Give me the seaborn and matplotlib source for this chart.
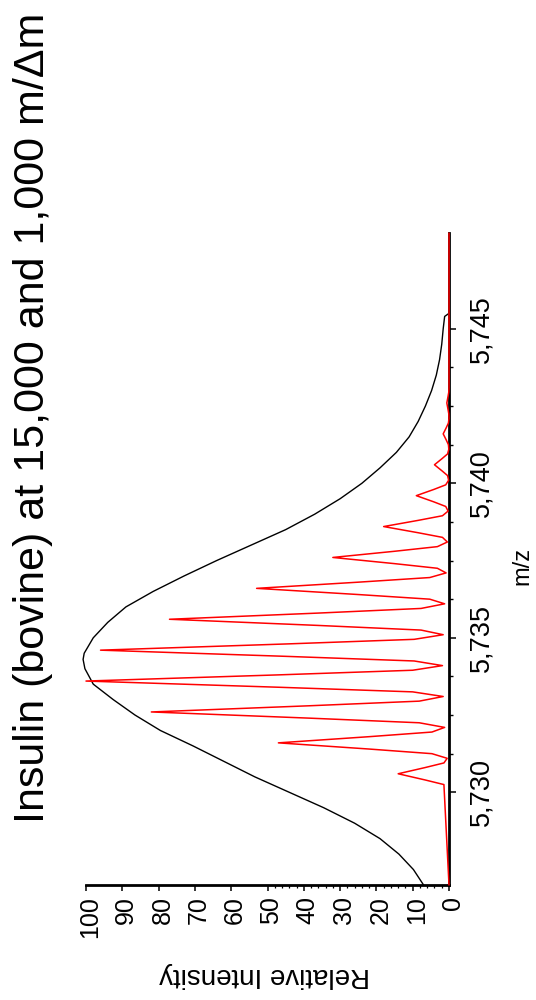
import matplotlib
matplotlib.use("Agg")
import matplotlib.pyplot as plt
import matplotlib.transforms as mtransforms
import seaborn as sns

# ---------------- data ----------------
# Low resolution (1,000 m/dm) envelope: m/z and relative intensity
env_mz = [5727.0, 5727.5, 5728.0, 5728.5, 5729.0, 5729.5, 5730.0, 5730.5,
          5731.0, 5731.5, 5732.0, 5732.5, 5733.0, 5733.5, 5734.0, 5734.3,
          5734.5, 5735.0, 5735.5, 5736.0, 5736.5, 5737.0, 5737.5, 5738.0,
          5738.5, 5739.0, 5739.5, 5740.0, 5740.5, 5741.0, 5741.5, 5742.0,
          5742.5, 5743.0, 5743.5, 5744.0, 5744.5, 5745.0, 5745.4, 5745.5,
          5748.1]
env_int = [7.0, 9.8, 13.8, 19.0, 26.0, 34.5, 44.0, 53.5,
           62.0, 70.5, 79.5, 86.5, 92.5, 98.0, 100.3, 100.8,
           100.5, 98.0, 94.0, 89.0, 81.5, 73.0, 64.0, 54.5,
           45.0, 37.0, 30.0, 24.0, 19.0, 14.5, 11.0, 8.5,
           6.5, 4.8, 3.5, 2.6, 2.0, 1.6, 1.2, 0.0,
           0.0]

# High resolution (15,000 m/dm) isotope profile: m/z and relative intensity
red_mz = [5727.0,
          5730.25, 5730.4, 5730.6, 5730.8, 5730.95, 5731.1,
          5731.25, 5731.4, 5731.6, 5731.8, 5731.95, 5732.1,
          5732.25, 5732.4, 5732.6, 5732.8, 5732.95, 5733.1,
          5733.25, 5733.4, 5733.6, 5733.8, 5733.95, 5734.1,
          5734.25, 5734.4, 5734.6, 5734.8, 5734.95, 5735.1,
          5735.25, 5735.4, 5735.6, 5735.8, 5735.95, 5736.1,
          5736.25, 5736.4, 5736.6, 5736.8, 5736.95, 5737.1,
          5737.25, 5737.4, 5737.6, 5737.8, 5737.95, 5738.1,
          5738.25, 5738.4, 5738.6, 5738.8, 5738.95, 5739.1,
          5739.25, 5739.4, 5739.6, 5739.8, 5739.95, 5740.1,
          5740.25, 5740.4, 5740.6, 5740.8, 5740.95, 5741.1,
          5741.25, 5741.4, 5741.6, 5741.8, 5741.95, 5742.1,
          5742.25, 5742.4, 5742.6, 5742.8, 5742.95, 5743.1,
          5748.1]
red_int = [0.0,
           1.4, 6.6, 14.0, 6.6, 1.4, 0.5,
           4.7, 22.0, 47.0, 22.0, 4.7, 1.2,
           8.2, 38.5, 82.0, 38.5, 8.2, 1.6,
           10.0, 47.0, 100.0, 47.0, 10.0, 1.8,
           9.6, 45.0, 96.0, 45.0, 9.6, 1.6,
           7.7, 36.0, 77.0, 36.0, 7.7, 1.2,
           5.3, 25.0, 53.0, 25.0, 5.3, 0.8,
           3.2, 15.0, 32.0, 15.0, 3.2, 0.45,
           1.8, 8.5, 18.0, 8.5, 1.8, 0.25,
           0.9, 4.2, 9.0, 4.2, 0.9, 0.1,
           0.4, 1.9, 4.0, 1.9, 0.4, 0.05,
           0.16, 0.75, 1.6, 0.75, 0.16, 0.0,
           0.06, 0.28, 0.6, 0.28, 0.06, 0.0,
           0.0]

mz_ticks = [5730, 5735, 5740, 5745]
int_ticks = [0, 10, 20, 30, 40, 50, 60, 70, 80, 90, 100]

title = "Insulin (bovine) at 15,000 and 1,000 m/\u0394m"
x_label = "Relative Intensity"
y_label = "m/z"

# ---------------- figure ----------------
sns.set_style("ticks")
plt.rcParams["font.family"] = ["Liberation Sans", "DejaVu Sans"]

W, H = 536, 1000
fig = plt.figure(figsize=(W / 100, H / 100), dpi=100)
fig.patch.set_facecolor("white")
ax = fig.add_axes([86 / W, 1 - 885 / H, (449 - 86) / W, (885 - 233) / H])
ax.set_facecolor("white")

sns.lineplot(x=env_int, y=env_mz, sort=False, estimator=None, orient="y",
             color="black", lw=1.0, ax=ax, clip_on=False, zorder=3)
sns.lineplot(x=red_int, y=red_mz, sort=False, estimator=None, orient="y",
             color="#ff0000", lw=1.1, ax=ax, clip_on=False, zorder=4)

ax.set_xlim(100, 0)
ax.set_ylim(5727.0, 5748.1)

for s in ("top", "left"):
    ax.spines[s].set_visible(False)
for s in ("right", "bottom"):
    ax.spines[s].set_visible(True)
    ax.spines[s].set_color("black")
    ax.spines[s].set_linewidth(2.0)

# m/z axis on the right
ax.yaxis.tick_right()
ax.set_yticks(mz_ticks)
ax.set_yticklabels([f"{v:,.0f}" for v in mz_ticks])
ax.set_yticks([5730 + 1.25 * i for i in range(1, 12) if i % 4 != 0], minor=True)
ax.tick_params(axis="y", which="major", direction="out", length=5, width=1.1,
               pad=9, labelsize=19.5, labelrotation=90, colors="black")
ax.tick_params(axis="y", which="minor", direction="out", length=3, width=1.0,
               colors="black")
for lbl in ax.get_yticklabels():
    lbl.set_va("center")
    lbl.set_ha("left")

# intensity axis along the bottom
ax.set_xticks(int_ticks)
ax.set_xticklabels([str(v) for v in int_ticks])
ax.set_xticks([v for v in range(2, 50, 2) if v % 10 != 0], minor=True)
ax.tick_params(axis="x", which="major", direction="out", length=4, width=1.1,
               pad=4, labelsize=18, labelrotation=90, colors="black")
ax.tick_params(axis="x", which="minor", direction="out", length=2.5, width=0.9,
               colors="black")
off = mtransforms.ScaledTranslation(4 / 100, 0, fig.dpi_scale_trans)
for lbl in ax.get_xticklabels():
    lbl.set_transform(lbl.get_transform() + off)
    lbl.set_va("top")

ax.set_xlabel("")
ax.set_ylabel("")
ax.grid(False)

fig.text(33 / W, 1 - 418 / H, title, rotation=90, ha="center", va="center",
         fontsize=31, color="black")
fig.text(265 / W, 1 - 975 / H, x_label, rotation=180, ha="center",
         va="center", fontsize=20, color="black")
fig.text(522 / W, 1 - 566 / H, y_label, rotation=90, ha="center",
         va="center", fontsize=17, color="black")

fig.savefig("out.png", dpi=100, facecolor="white")
